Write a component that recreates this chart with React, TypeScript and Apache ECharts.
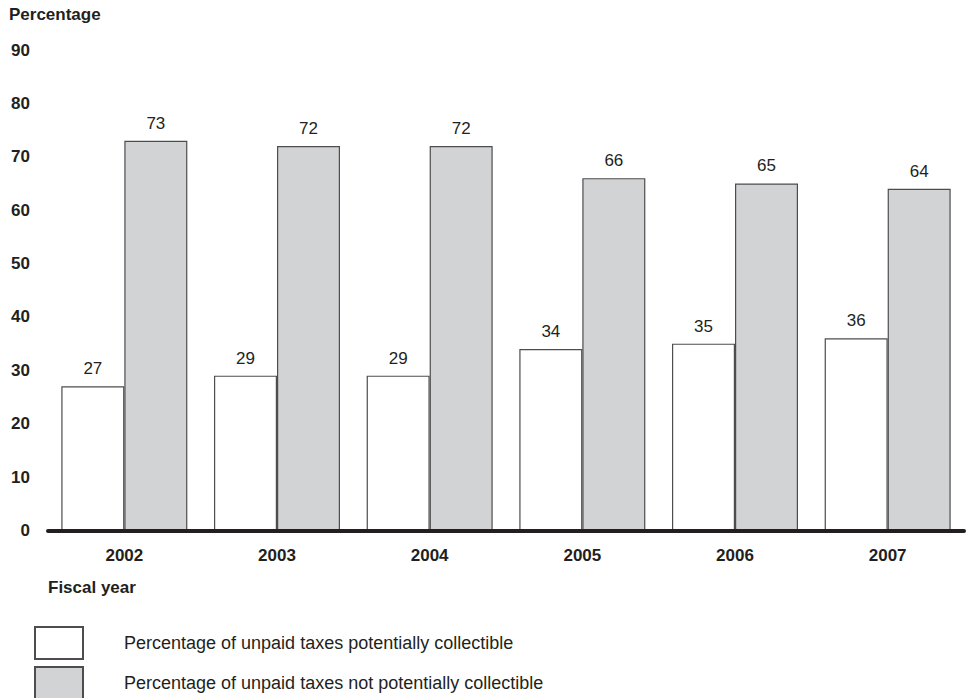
import React, { useEffect, useRef } from "react";
import * as echarts from "echarts";

const years = ["2002", "2003", "2004", "2005", "2006", "2007"];
const collectible = [27, 29, 29, 34, 35, 36];
const notCollectible = [73, 72, 72, 66, 65, 64];
const seriesNames = [
  "Percentage of unpaid taxes potentially collectible",
  "Percentage of unpaid taxes not potentially collectible",
];

const FONT = "Liberation Sans, Arial, Helvetica, sans-serif";
const INK = "#231f20";

export default function App() {
  const ref = useRef<HTMLDivElement>(null);
  useEffect(() => {
    if (!ref.current) return;
    const chart = echarts.init(ref.current, null, { renderer: "svg" });
    const labelCfg = {
      show: true,
      position: "top",
      distance: 9,
      color: INK,
      fontSize: 17,
      fontFamily: FONT,
    };
    const legendBase = {
      orient: "vertical",
      left: 34,
      padding: 0,
      itemWidth: 48,
      itemHeight: 32,
      icon: "rect",
      selectedMode: false,
      textStyle: {
        fontSize: 18,
        color: INK,
        fontFamily: FONT,
        padding: [0, 0, 0, 36],
      },
    };
    chart.setOption({
      animation: false,
      backgroundColor: "#ffffff",
      title: {
        text: "Percentage",
        left: 9,
        top: 6,
        padding: 0,
        textStyle: { fontSize: 17, fontWeight: "bold", color: INK, fontFamily: FONT },
      },
      grid: { left: 48, right: 6, top: 50, bottom: 167.5 },
      legend: [
        { ...legendBase, top: 626, data: [seriesNames[0]] },
        { ...legendBase, top: 666, data: [seriesNames[1]] },
      ],
      xAxis: {
        type: "category",
        data: years,
        z: 10,
        axisLine: { show: true, lineStyle: { color: INK, width: 4 } },
        axisTick: { show: false },
        axisLabel: {
          margin: 16,
          fontSize: 17,
          fontWeight: "bold",
          color: INK,
          fontFamily: FONT,
        },
      },
      yAxis: {
        type: "value",
        min: 0,
        max: 90,
        interval: 10,
        axisLine: { show: false },
        axisTick: { show: false },
        splitLine: { show: false },
        axisLabel: {
          margin: 18,
          fontSize: 17,
          fontWeight: "bold",
          color: INK,
          fontFamily: FONT,
        },
      },
      graphic: [
        {
          type: "text",
          left: 48,
          top: 579,
          style: {
            text: "Fiscal year",
            fontSize: 17,
            fontWeight: "bold",
            fill: INK,
            fontFamily: FONT,
          },
        },
      ],
      series: [
        {
          name: seriesNames[0],
          type: "bar",
          data: collectible,
          barWidth: 63,
          barGap: "0%",
          itemStyle: { color: "#ffffff", borderColor: "#4d4d4f", borderWidth: 1.2 },
          label: labelCfg,
        },
        {
          name: seriesNames[1],
          type: "bar",
          data: notCollectible,
          barWidth: 63,
          barGap: "0%",
          itemStyle: { color: "#d1d3d4", borderColor: "#4d4d4f", borderWidth: 1.2 },
          label: labelCfg,
        },
      ],
    });
    return () => chart.dispose();
  }, []);
  return (
    <div
      ref={ref}
      style={{ position: "fixed", left: 0, top: 0, width: 970, height: 698 }}
    />
  );
}
